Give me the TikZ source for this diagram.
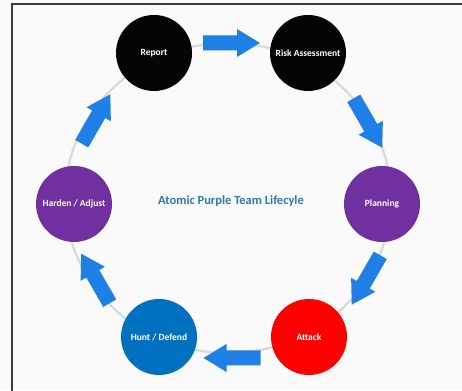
\documentclass[tikz,border=0pt]{standalone}
\usepackage{fontspec}
\setmainfont{Carlito}
\definecolor{arrowblue}{HTML}{1E7FE6}
\definecolor{ringgray}{HTML}{D9D9D9}
\definecolor{nodepurple}{HTML}{7030A0}
\definecolor{nodeblue}{HTML}{0070C0}
\definecolor{nodered}{HTML}{FF0000}
\definecolor{nodeblack}{HTML}{050505}
\definecolor{titleblue}{HTML}{2F78A8}
\definecolor{framegray}{HTML}{3A3A3A}
\definecolor{bgpaper}{HTML}{FAFAFA}
\tikzset{
  phase/.style={circle, minimum size=76pt, inner sep=0pt, text=white,
    font=\fontsize{9.5}{11}\selectfont\bfseries},
  ringline/.style={draw=ringgray, line width=2.2pt},
  blockarrow/.pic={
    \fill[arrowblue] (-28.5,-7.5) -- (5.5,-7.5) -- (5.5,-14) -- (28.5,0)
      -- (5.5,14) -- (5.5,7.5) -- (-28.5,7.5) -- cycle;
  }
}
\begin{document}
\begin{tikzpicture}[x=1pt,y=1pt]
\useasboundingbox (0,0) rectangle (462,390);
\clip (0,0) rectangle (462,390);
\fill[bgpaper] (0,0) rectangle (462,390);
\coordinate (fbl) at (12,-10);
\coordinate (ftl) at (12,386);
\coordinate (ftr) at (470,386);
\draw[framegray, line width=1.5pt] (fbl) -- (ftl) -- (ftr);
% ring
\draw[ringline] (228,192) ellipse [x radius=163, y radius=155];
% phases
\node[phase, fill=nodeblack] (report) at (154,337) {Report};
\node[phase, fill=nodeblack] (risk) at (308,337) {Risk Assessment};
\node[phase, fill=nodepurple] (planning) at (382,186) {Planning};
\node[phase, fill=nodered] (attack) at (309,53) {Attack};
\node[phase, fill=nodeblue] (hunt) at (159,53) {Hunt / Defend};
\node[phase, fill=nodepurple] (harden) at (74,186) {Harden / Adjust};
% title
\node[text=titleblue, font=\fontsize{12.5}{14}\selectfont\bfseries] (title) at (231,189) {Atomic Purple Team Lifecyle};
% arrows
\pic (a1) [rotate=0] at (231.5,347) {blockarrow};
\pic (a2) [rotate=-60] at (368,267) {blockarrow};
\pic (a3) [rotate=-120] at (366,110) {blockarrow};
\pic (a4) [rotate=180] at (232,32) {blockarrow};
\pic (a5) [rotate=120] at (95.5,111.5) {blockarrow};
\pic (a6) [rotate=60] at (96,271) {blockarrow};
\end{tikzpicture}
\end{document}
